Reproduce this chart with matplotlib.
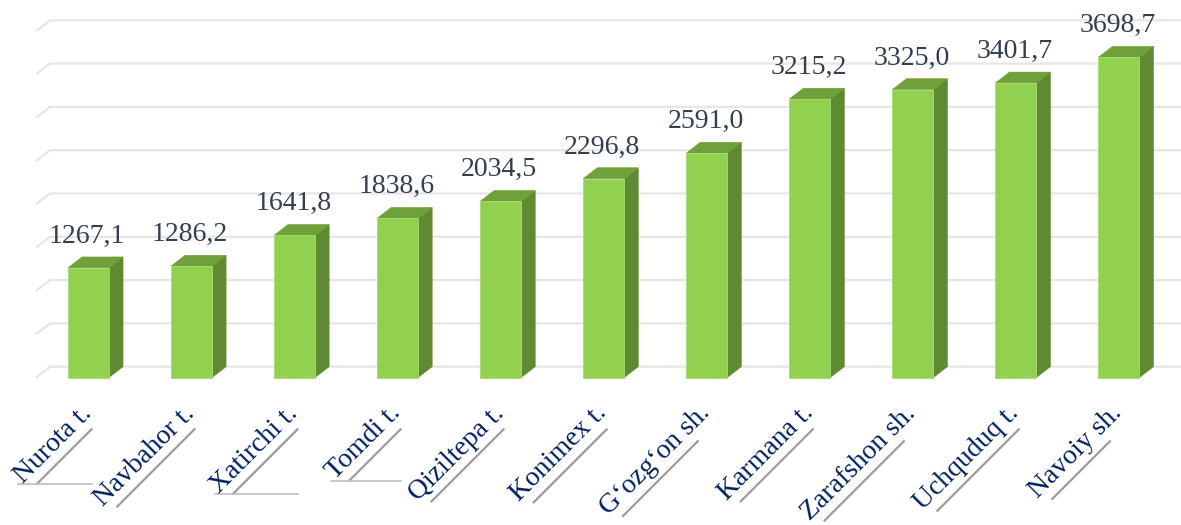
import numpy as np
import matplotlib
matplotlib.use("Agg")
import matplotlib.pyplot as plt
from matplotlib.patches import Polygon

# data
districts = ["Nurota t.", "Navbahor t.", "Xatirchi t.", "Tomdi t.", "Qiziltepa t.",
             "Konimex t.", "G\u2018ozg\u2018on sh.", "Karmana t.", "Zarafshon sh.",
             "Uchquduq t.", "Navoiy sh."]
values = [1267.1, 1286.2, 1641.8, 1838.6, 2034.5, 2296.8, 2591.0, 3215.2, 3325.0,
          3401.7, 3698.7]
grid_levels = np.arange(0, 4001, 500)
# labels that carry the stray horizontal shadow line
stray_lines = [0, 2, 3]

FRONT = "#92D050"
SIDE = "#5F8A31"
TOP = "#70A03A"
VAL_COLOR = "#333F50"
CAT_COLOR = "#002060"

plt.rcParams["font.family"] = ["Liberation Serif", "DejaVu Serif"]

fig = plt.figure(figsize=(11.81, 5.25), dpi=100)
ax = fig.add_axes([0, 0, 1, 1])
ax.set_xlim(-0.859, 10.602)
ax.set_ylim(-1703, 4359)
ax.axis("off")

hw = 0.199        # half bar width (category units)
ddx = 0.136       # depth offset x
ddy = 125         # depth offset y (value units)
x_floor = -0.509

# back-wall gridlines with the little floor slant on the left
for g in grid_levels:
    ax.plot([x_floor, x_floor + ddx, 10.602], [g, g + ddy, g + ddy],
            color="#E6E6E6", lw=1.6, zorder=1, solid_capstyle="butt")

for i, v in enumerate(values):
    front = Polygon([(i - hw, 0), (i + hw, 0), (i + hw, v), (i - hw, v)],
                    closed=True, facecolor=FRONT, edgecolor="#A6DA74", lw=0.6, zorder=3)
    side = Polygon([(i + hw, 0), (i + hw + ddx, ddy), (i + hw + ddx, v + ddy), (i + hw, v)],
                   closed=True, facecolor=SIDE, edgecolor=SIDE, lw=0.4, zorder=3)
    top = Polygon([(i - hw, v), (i - hw + ddx, v + ddy), (i + hw + ddx, v + ddy), (i + hw, v)],
                  closed=True, facecolor=TOP, edgecolor=TOP, lw=0.4, zorder=3)
    ax.add_patch(side)
    ax.add_patch(top)
    ax.add_patch(front)
    ax.annotate(f"{v:.1f}".replace(".", ","), xy=(i, v), xytext=(-1, 18),
                textcoords="offset points", ha="center", va="baseline",
                fontsize=20, color=VAL_COLOR, zorder=4)

# category labels, rotated, with the grey shadow underline under the first word
fig.canvas.draw()
renderer = fig.canvas.get_renderer()
d = np.array([1, 1]) / np.sqrt(2)
n = np.array([1, -1]) / np.sqrt(2)
lab_y = -421
for i, name in enumerate(districts):
    t = ax.text(i + 0.04, lab_y, name, rotation=45, rotation_mode="anchor",
                ha="right", va="baseline", fontsize=20, color=CAT_COLOR, zorder=4)
    fp = t.get_fontproperties()
    w_all = renderer.get_text_width_height_descent(name, fp, ismath=False)[0]
    w_first = renderer.get_text_width_height_descent(name.split(" ")[0], fp, ismath=False)[0]
    anchor = ax.transData.transform((i + 0.04, lab_y))
    start = anchor - w_all * d
    u0 = start + 9 * d + 10 * n
    u1 = u0 + (w_first + 2) * d
    p = ax.transData.inverted().transform(np.vstack([u0, u1]))
    ax.plot(p[:, 0], p[:, 1], color="#9C9C9C", lw=1.6, zorder=2, solid_capstyle="butt")
    if i in stray_lines:
        h = ax.transData.inverted().transform(np.vstack([u0 - [18, 0], [u1[0], u0[1]]]))
        ax.plot(h[:, 0], h[:, 1], color="#BFBFBF", lw=1.2, zorder=2)

fig.savefig("out.png", dpi=100)
